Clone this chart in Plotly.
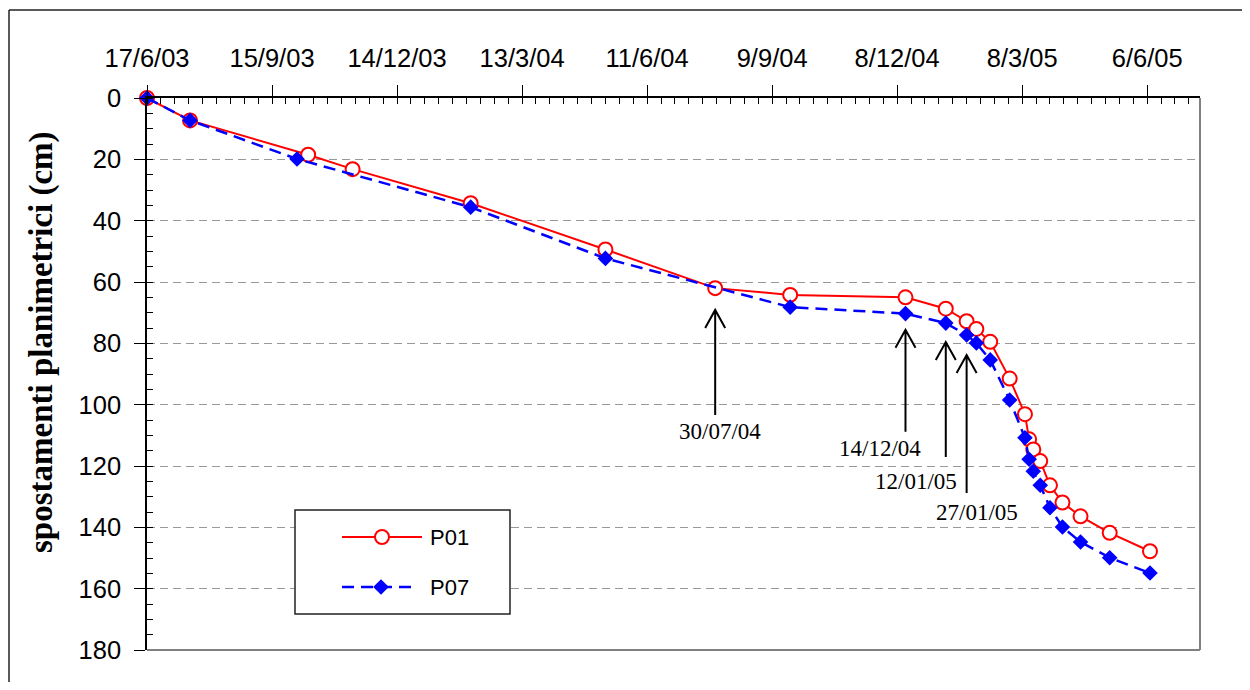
import plotly.graph_objects as go

# ---------------- data ----------------
p01_dates = ["2003-06-17", "2003-07-18", "2003-10-11", "2003-11-12", "2004-02-05",
             "2004-05-12", "2004-07-30", "2004-09-22", "2004-12-14", "2005-01-12",
             "2005-01-27", "2005-02-03", "2005-02-13", "2005-02-27", "2005-03-10",
             "2005-03-13", "2005-03-16", "2005-03-21", "2005-03-28", "2005-04-06",
             "2005-04-19", "2005-05-10", "2005-06-08"]
p01_values = [0, 7.3, 18.5, 23.2, 34.3, 49.4, 62.0, 64.2, 65.0, 68.7,
              72.8, 75.3, 79.5, 91.5, 103.1, 111.3, 114.6, 118.4, 126.3, 131.9,
              136.4, 141.8, 147.8]

p07_dates = ["2003-06-17", "2003-07-18", "2003-10-03", "2004-02-05", "2004-05-12",
             "2004-09-22", "2004-12-14", "2005-01-12", "2005-01-27", "2005-02-03",
             "2005-02-13", "2005-02-27", "2005-03-10", "2005-03-13", "2005-03-16",
             "2005-03-21", "2005-03-28", "2005-04-06", "2005-04-19", "2005-05-10",
             "2005-06-08"]
p07_values = [0, 7.3, 19.9, 35.6, 52.3, 68.2, 70.3, 73.4, 77.3, 79.9,
              85.4, 98.5, 110.8, 117.8, 121.7, 126.3, 133.6, 139.9, 144.8, 149.9,
              154.9]

event_dates = ["2004-07-30", "2004-12-14", "2005-01-12", "2005-01-27"]
event_labels = ["30/07/04", "14/12/04", "12/01/05", "27/01/05"]

series_names = ["P01", "P07"]
y_title = "spostamenti planimetrici (cm)"

# ---------------- layout helpers ----------------
# page body has an 8px margin, so the figure is placed at (8, 8) on screen
W, H = 1234, 674
L, T = 139, 90
PW, PH = 1053, 552
R = W - L - PW
B = H - T - PH
SX0, SY0 = 147, 98   # plot-area corner in screen pixels


def fx(sx):
    return (sx - SX0) / PW


def fy(sy):
    return (SY0 + PH - sy) / PH


SANS = "Liberation Sans, Arial, sans-serif"
SERIF = "Liberation Serif, Times New Roman, serif"
DAY = 86400000

fig = go.Figure()
fig.add_trace(go.Scatter(
    x=p01_dates, y=p01_values, name=series_names[0], mode="lines+markers",
    line=dict(color="#ff0000", width=2),
    marker=dict(symbol="circle", size=14, color="white",
                line=dict(color="#ff0000", width=2)),
    cliponaxis=False, showlegend=False))
fig.add_trace(go.Scatter(
    x=p07_dates, y=p07_values, name=series_names[1], mode="lines+markers",
    line=dict(color="#0000ff", width=2.5, dash="12px,7px"),
    marker=dict(symbol="diamond", size=12, color="#0000ff"),
    cliponaxis=False, showlegend=False))

fig.update_layout(
    width=W, height=H,
    margin=dict(l=L, r=R, t=T, b=B),
    paper_bgcolor="white", plot_bgcolor="white",
    showlegend=False,
    xaxis=dict(
        type="date", side="top",
        range=["2003-06-17", "2005-07-14"],
        tick0="2003-06-17", dtick=90 * DAY, tickformat="%-d/%-m/%y",
        showgrid=False, zeroline=False,
        showline=True, linecolor="black", linewidth=1.5,
        ticks="outside", ticklen=11, tickwidth=1, tickcolor="black",
        ticklabelstandoff=8,
        tickfont=dict(family=SANS, size=25.5, color="black"),
        minor=dict(dtick=10 * DAY, tick0="2003-06-17", ticks="inside",
                   ticklen=6, tickcolor="black", tickwidth=1, showgrid=False),
    ),
    yaxis=dict(
        range=[180, 0], dtick=20, tick0=0,
        showgrid=True, gridcolor="#999999", gridwidth=1.3, griddash="8px,5px",
        zeroline=False,
        showline=True, linecolor="black", linewidth=1.5,
        ticks="outside", ticklen=11, tickwidth=1, tickcolor="black",
        ticklabelstandoff=8,
        tickfont=dict(family=SANS, size=25.5, color="black"),
        minor=dict(dtick=5, tick0=0, ticks="inside", ticklen=6,
                   tickcolor="black", tickwidth=1, showgrid=False),
    ),
)

shapes = []
# plot-area right & bottom border (grey)
shapes.append(dict(type="line", xref="paper", yref="paper", x0=1, x1=1, y0=0, y1=1,
                   line=dict(color="#808080", width=2), layer="above"))
shapes.append(dict(type="line", xref="paper", yref="paper", x0=0, x1=1, y0=0, y1=0,
                   line=dict(color="#808080", width=2), layer="above"))
# outer chart frame (left and top)
shapes.append(dict(type="line", xref="paper", yref="paper",
                   x0=fx(9), x1=fx(9), y0=fy(700), y1=fy(10),
                   line=dict(color="#222222", width=1.5)))
shapes.append(dict(type="line", xref="paper", yref="paper",
                   x0=fx(9), x1=fx(1260), y0=fy(10), y1=fy(10),
                   line=dict(color="#222222", width=1.5)))

# legend box
shapes.append(dict(type="rect", xref="paper", yref="paper",
                   x0=fx(295), x1=fx(510), y0=fy(614), y1=fy(510),
                   line=dict(color="#222222", width=1.5), fillcolor="white",
                   layer="above"))
shapes.append(dict(type="line", xref="paper", yref="paper",
                   x0=fx(342), x1=fx(422), y0=fy(537), y1=fy(537),
                   line=dict(color="#ff0000", width=2), layer="above"))
shapes.append(dict(type="circle", xref="paper", yref="paper",
                   xsizemode="pixel", ysizemode="pixel",
                   xanchor=fx(382), yanchor=fy(537),
                   x0=-7, x1=7, y0=-7, y1=7,
                   line=dict(color="#ff0000", width=2), fillcolor="white",
                   layer="above"))
shapes.append(dict(type="line", xref="paper", yref="paper",
                   x0=fx(342), x1=fx(414), y0=fy(587), y1=fy(587),
                   line=dict(color="#0000ff", width=2.5, dash="12px,7px"),
                   layer="above"))
shapes.append(dict(type="path", xref="paper", yref="paper",
                   xsizemode="pixel", ysizemode="pixel",
                   xanchor=fx(381), yanchor=fy(587),
                   path="M 7.8 0 L 0 7.8 L -7.8 0 L 0 -7.8 Z",
                   line=dict(color="#0000ff", width=0), fillcolor="#0000ff",
                   layer="above"))

# event arrows (open line-drawn heads), anchored at the event date
tip_vals = [69.1, 75.6, 79.6, 83.8]
tail_len = [105, 102, 115, 138]
for d, tv, tl in zip(event_dates, tip_vals, tail_len):
    shapes.append(dict(type="path", xref="x", yref="y",
                       xsizemode="pixel", ysizemode="pixel",
                       xanchor=d, yanchor=tv,
                       path=f"M -10 -18 L 0 0 L 10 -18 M 0 0 L 0 -{tl}",
                       line=dict(color="black", width=2), layer="above"))
fig.update_layout(shapes=shapes)

ann = []
# legend labels
ann.append(dict(xref="paper", yref="paper", x=fx(428), y=fy(537), text=series_names[0],
                showarrow=False, xanchor="left", yanchor="middle",
                font=dict(family=SANS, size=22, color="black")))
ann.append(dict(xref="paper", yref="paper", x=fx(428), y=fy(587), text=series_names[1],
                showarrow=False, xanchor="left", yanchor="middle",
                font=dict(family=SANS, size=22, color="black")))
# y-axis title
ann.append(dict(xref="paper", yref="paper", x=fx(41), y=fy(342), text="<b>" + y_title + "</b>",
                showarrow=False, textangle=-90, xanchor="center", yanchor="middle",
                font=dict(family=SERIF, size=33, color="black")))

# event labels
lab_dx = [5, -25, -30, 10]
lab_dy = [122, 119, 139, 158]
for d, lab, tv, dx, dy in zip(event_dates, event_labels, tip_vals, lab_dx, lab_dy):
    ann.append(dict(x=d, y=tv, xref="x", yref="y", text=lab, showarrow=False,
                    xshift=dx, yshift=-dy, xanchor="center", yanchor="middle",
                    font=dict(family=SERIF, size=23, color="black")))
fig.update_layout(annotations=ann)

fig.write_html("out.html")
